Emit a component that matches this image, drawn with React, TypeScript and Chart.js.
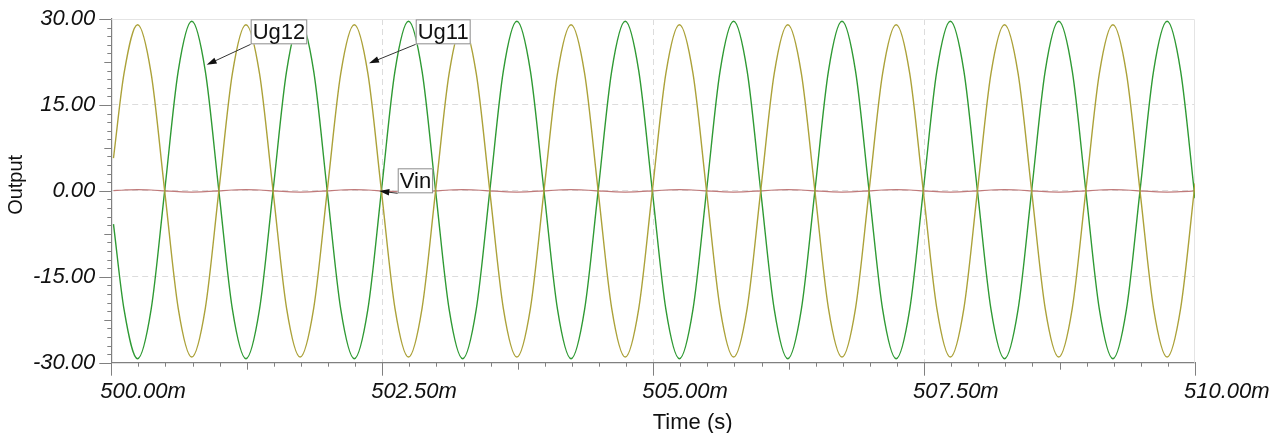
import React, { useEffect, useRef } from 'react';
import { Chart, registerables } from 'chart.js';

Chart.register(...registerables);

// ---- data (time in ms) ----
const times = [
  500.02,
  500.1175, 500.2425, 500.3675, 500.4925, 500.6175, 500.7425, 500.8675, 500.9925,
  501.1175, 501.2425, 501.3675, 501.4925, 501.6175, 501.7425, 501.8675, 501.9925,
  502.1175, 502.2425, 502.3675, 502.4925, 502.6175, 502.7425, 502.8675, 502.9925,
  503.1175, 503.2425, 503.3675, 503.4925, 503.6175, 503.7425, 503.8675, 503.9925,
  504.1175, 504.2425, 504.3675, 504.4925, 504.6175, 504.7425, 504.8675, 504.9925,
  505.1175, 505.2425, 505.3675, 505.4925, 505.6175, 505.7425, 505.8675, 505.9925,
  506.1175, 506.2425, 506.3675, 506.4925, 506.6175, 506.7425, 506.8675, 506.9925,
  507.1175, 507.2425, 507.3675, 507.4925, 507.6175, 507.7425, 507.8675, 507.9925,
  508.1175, 508.2425, 508.3675, 508.4925, 508.6175, 508.7425, 508.8675, 508.9925,
  509.1175, 509.2425, 509.3675, 509.4925, 509.6175, 509.7425, 509.8675, 509.9925,
  510.0,
];

const ug11 = [
  5.7,
  20.5, 29.0, 20.5, 0, -20.5, -29.0, -20.5, 0,
  20.5, 29.0, 20.5, 0, -20.5, -29.0, -20.5, 0,
  20.5, 29.0, 20.5, 0, -20.5, -29.0, -20.5, 0,
  20.5, 29.0, 20.5, 0, -20.5, -29.0, -20.5, 0,
  20.5, 29.0, 20.5, 0, -20.5, -29.0, -20.5, 0,
  20.5, 29.0, 20.5, 0, -20.5, -29.0, -20.5, 0,
  20.5, 29.0, 20.5, 0, -20.5, -29.0, -20.5, 0,
  20.5, 29.0, 20.5, 0, -20.5, -29.0, -20.5, 0,
  20.5, 29.0, 20.5, 0, -20.5, -29.0, -20.5, 0,
  20.5, 29.0, 20.5, 0, -20.5, -29.0, -20.5, 0,
  1.3,
];

const ug12 = [
  -5.8,
  -20.7, -29.3, -20.7, 0, 20.9, 29.6, 20.9, 0,
  -20.7, -29.3, -20.7, 0, 20.9, 29.6, 20.9, 0,
  -20.7, -29.3, -20.7, 0, 20.9, 29.6, 20.9, 0,
  -20.7, -29.3, -20.7, 0, 20.9, 29.6, 20.9, 0,
  -20.7, -29.3, -20.7, 0, 20.9, 29.6, 20.9, 0,
  -20.7, -29.3, -20.7, 0, 20.9, 29.6, 20.9, 0,
  -20.7, -29.3, -20.7, 0, 20.9, 29.6, 20.9, 0,
  -20.7, -29.3, -20.7, 0, 20.9, 29.6, 20.9, 0,
  -20.7, -29.3, -20.7, 0, 20.9, 29.6, 20.9, 0,
  -20.7, -29.3, -20.7, 0, 20.9, 29.6, 20.9, 0,
  -1.3,
];

const vin = [
  0.05,
  0.15, 0.22, 0.15, 0, -0.15, -0.22, -0.15, 0,
  0.15, 0.22, 0.15, 0, -0.15, -0.22, -0.15, 0,
  0.15, 0.22, 0.15, 0, -0.15, -0.22, -0.15, 0,
  0.15, 0.22, 0.15, 0, -0.15, -0.22, -0.15, 0,
  0.15, 0.22, 0.15, 0, -0.15, -0.22, -0.15, 0,
  0.15, 0.22, 0.15, 0, -0.15, -0.22, -0.15, 0,
  0.15, 0.22, 0.15, 0, -0.15, -0.22, -0.15, 0,
  0.15, 0.22, 0.15, 0, -0.15, -0.22, -0.15, 0,
  0.15, 0.22, 0.15, 0, -0.15, -0.22, -0.15, 0,
  0.15, 0.22, 0.15, 0, -0.15, -0.22, -0.15, 0,
  0.02,
];

const seriesNames = ['Ug11', 'Ug12', 'Vin'];
const xMajorTicks = [500, 502.5, 505, 507.5, 510];
const xTickLabels = ['500.00m', '502.50m', '505.00m', '507.50m', '510.00m'];
const yMajorTicks = [30, 15, 0, -15, -30];
const yTickLabels = ['30.00', '15.00', '0.00', '-15.00', '-30.00'];
const xTitle = 'Time (s)';
const yTitle = 'Output';

// callouts anchored in data coordinates
const callouts = [
  { text: 'Ug12', tipX: 500.88, tipY: 22.0, cornerX: 501.286, cornerY: 25.58 },
  { text: 'Ug11', tipX: 502.378, tipY: 22.26, cornerX: 502.809, cornerY: 25.58 },
  { text: 'Vin', tipX: 502.473, tipY: -0.03, cornerX: 502.643, cornerY: -0.43 },
];

// ---- styles ----
const FONT = '"Liberation Sans", Arial, Helvetica, sans-serif';
const colors = ['#aca23a', '#2f9a34', '#c07a7a'];
const axisColor = '#808080';
const gridColor = '#dcdcdc';
const frameColor = '#e4e4e4';
const textColor = '#111111';

const near = (a: number, b: number) => Math.abs(a - b) < 1e-6;
const isMult = (v: number, base: number, step: number) => {
  const r = (v - base) / step;
  return Math.abs(r - Math.round(r)) < 1e-6;
};

const decor = {
  id: 'decor',
  beforeDatasetsDraw(chart: any) {
    const { ctx, chartArea: a } = chart;
    ctx.save();
    ctx.strokeStyle = frameColor;
    ctx.lineWidth = 1;
    ctx.beginPath();
    ctx.moveTo(a.left, a.top + 0.5);
    ctx.lineTo(a.right - 0.5, a.top + 0.5);
    ctx.lineTo(a.right - 0.5, a.bottom);
    ctx.stroke();
    ctx.restore();
  },
  afterDatasetsDraw(chart: any) {
    const { ctx } = chart;
    const xs = chart.scales.x;
    const ys = chart.scales.y;
    ctx.save();
    ctx.font = `22px ${FONT}`;
    callouts.forEach((c) => {
      const cx = xs.getPixelForValue(c.cornerX);
      const cy = ys.getPixelForValue(c.cornerY);
      const tx = xs.getPixelForValue(c.tipX);
      const ty = ys.getPixelForValue(c.tipY);
      const dx = tx - cx;
      const dy = ty - cy;
      const len = Math.hypot(dx, dy);
      const ux = dx / len;
      const uy = dy / len;
      const nx = -uy;
      const ny = ux;
      ctx.strokeStyle = '#333333';
      ctx.lineWidth = 1;
      ctx.beginPath();
      ctx.moveTo(cx, cy);
      ctx.lineTo(tx - ux * 8, ty - uy * 8);
      ctx.stroke();
      ctx.fillStyle = '#111111';
      ctx.beginPath();
      ctx.moveTo(tx, ty);
      ctx.lineTo(tx - ux * 10 + nx * 3.2, ty - uy * 10 + ny * 3.2);
      ctx.lineTo(tx - ux * 10 - nx * 3.2, ty - uy * 10 - ny * 3.2);
      ctx.closePath();
      ctx.fill();
      const w = ctx.measureText(c.text).width + 4;
      const h = 25;
      ctx.fillStyle = '#ffffff';
      ctx.fillRect(cx, cy - h, w, h);
      ctx.strokeStyle = '#8c8c8c';
      ctx.strokeRect(cx + 0.5, cy - h + 0.5, w - 1, h - 1);
      ctx.fillStyle = textColor;
      ctx.textAlign = 'center';
      ctx.textBaseline = 'middle';
      ctx.fillText(c.text, cx + w / 2, cy - h / 2 + 1);
    });
    ctx.restore();
  },
  afterDraw(chart: any) {
    const { ctx, chartArea: a } = chart;
    const xs = chart.scales.x;
    const ys = chart.scales.y;
    ctx.save();
    ctx.strokeStyle = axisColor;
    ctx.lineWidth = 1;
    ctx.beginPath();
    xs.ticks.forEach((t: any) => {
      const px = Math.round(xs.getPixelForValue(t.value)) + 0.5;
      const l = isMult(t.value, 500, 2.5) ? 13 : isMult(t.value, 500, 1.25) ? 7 : 4;
      ctx.moveTo(px, a.bottom);
      ctx.lineTo(px, a.bottom + l);
    });
    ys.ticks.forEach((t: any) => {
      const py = Math.round(ys.getPixelForValue(t.value)) + 0.5;
      const l = isMult(t.value, 0, 15) ? 12 : isMult(t.value, 0, 7.5) ? 7 : 4;
      ctx.moveTo(a.left - l, py);
      ctx.lineTo(a.left, py);
    });
    ctx.stroke();
    ctx.fillStyle = textColor;
    ctx.font = `22px ${FONT}`;
    ctx.textAlign = 'center';
    ctx.textBaseline = 'middle';
    ctx.fillText(xTitle, (a.left + a.right) / 2 + 39.5, a.bottom + 60);
    ctx.font = `20px ${FONT}`;
    ctx.textBaseline = 'alphabetic';
    ctx.translate(14, (a.top + a.bottom) / 2 - 6);
    ctx.rotate(-Math.PI / 2);
    ctx.fillText(yTitle, 0, 0);
    ctx.restore();
  },
};

export default function App() {
  const ref = useRef<HTMLCanvasElement>(null);
  useEffect(() => {
    if (!ref.current) return;
    const series = [ug11, ug12, vin];
    const chart = new Chart(ref.current, {
      type: 'line',
      data: {
        datasets: series.map((vals, i) => ({
          label: seriesNames[i],
          data: times.map((t, j) => ({ x: t, y: vals[j] })),
          borderColor: colors[i],
          borderWidth: i === 2 ? 1.2 : 1.4,
          pointRadius: 0,
          fill: false,
          cubicInterpolationMode: 'monotone' as const,
        })),
      },
      options: {
        animation: false,
        responsive: true,
        maintainAspectRatio: false,
        layout: { padding: { top: 11, right: 84, left: 0, bottom: 0 } },
        plugins: { legend: { display: false }, tooltip: { enabled: false } },
        events: [],
        scales: {
          x: {
            type: 'linear',
            min: 500,
            max: 510,
            afterBuildTicks: (s: any) => {
              const arr: any[] = [];
              for (let i = 0; i <= 40; i++) arr.push({ value: 500 + i * 0.25 });
              s.ticks = arr;
            },
            afterFit: (s: any) => {
              s.height = 70.3;
              s.paddingLeft = 0;
              s.paddingRight = 0;
            },
            grid: {
              drawTicks: false,
              lineWidth: 1,
              color: (c: any) => {
                const v = c.tick ? c.tick.value : NaN;
                return xMajorTicks.slice(1, -1).some((m) => near(m, v)) ? gridColor : 'rgba(0,0,0,0)';
              },
            },
            border: { display: true, color: axisColor, width: 1.2, dash: [6, 4] },
            ticks: {
              autoSkip: false,
              maxRotation: 0,
              minRotation: 0,
              align: 'start',
              labelOffset: -11,
              padding: 16,
              color: textColor,
              font: { family: FONT, size: 22, style: 'italic' },
              callback: (v: any) => {
                const idx = xMajorTicks.findIndex((m) => near(m, Number(v)));
                return idx >= 0 ? xTickLabels[idx] : '';
              },
            },
          },
          y: {
            type: 'linear',
            min: -30,
            max: 30,
            afterBuildTicks: (s: any) => {
              const arr: any[] = [];
              for (let i = 0; i <= 40; i++) arr.push({ value: -30 + i * 1.5 });
              s.ticks = arr;
            },
            afterFit: (s: any) => {
              s.width = 103.3;
              s.paddingTop = 0;
              s.paddingBottom = 0;
            },
            grid: {
              drawTicks: false,
              lineWidth: 1,
              color: (c: any) => {
                const v = c.tick ? c.tick.value : NaN;
                return yMajorTicks.slice(1, -1).some((m) => near(m, v)) ? gridColor : 'rgba(0,0,0,0)';
              },
            },
            border: { display: true, color: axisColor, width: 1.2, dash: [6, 4] },
            ticks: {
              autoSkip: false,
              padding: 16,
              color: textColor,
              font: { family: FONT, size: 22, style: 'italic' },
              callback: (v: any) => {
                const idx = yMajorTicks.findIndex((m) => near(m, Number(v)));
                return idx >= 0 ? yTickLabels[idx] : '';
              },
            },
          },
        },
      },
      plugins: [decor],
    } as any);
    return () => chart.destroy();
  }, []);
  return (
    <div style={{ position: 'relative', width: '100%', height: '425px' }}>
      <canvas ref={ref} />
    </div>
  );
}
